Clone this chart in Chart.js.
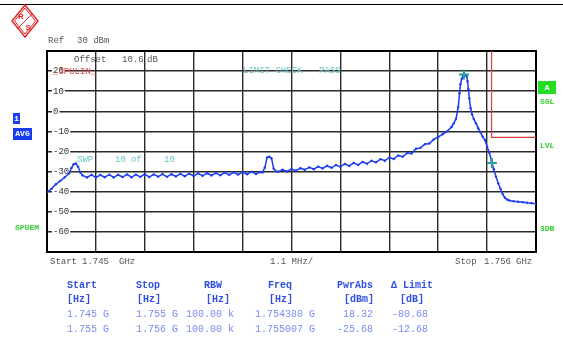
<!DOCTYPE html>
<html><head><meta charset="utf-8">
<script src="https://cdn.jsdelivr.net/npm/chart.js@4/dist/chart.umd.min.js"></script>
<style>
html,body{margin:0;padding:0;background:#fff;}
#wrap{position:relative;width:563px;height:342px;overflow:hidden;font-family:'Liberation Mono',monospace;}
#c{position:absolute;left:0;top:0;}
.t{position:absolute;white-space:pre;line-height:1;font-size:9px;color:#555;}
.teal{color:#6cc6c6;}
.grn{color:#33cc33;font-weight:bold;font-size:8px;}
.box{position:absolute;color:#fff;font-weight:bold;font-size:8px;line-height:1;text-align:center;}
.hd{position:absolute;white-space:pre;font-size:10px;line-height:1;font-weight:bold;color:#2f4fe0;}
.vl{position:absolute;white-space:pre;font-size:10px;line-height:1;color:#7a8cf0;}
#topline{position:absolute;left:0;top:4px;width:563px;height:1px;background:#000;}
</style></head><body>
<div id="wrap">
<canvas id="c" width="563" height="342"></canvas>
<div id="topline"></div>
<svg style="position:absolute;left:0;top:0" width="50" height="44">
  <polygon points="25,5 38,21 25,37 12,21" fill="none" stroke="#dd2b2b" stroke-width="1.5"/>
  <polygon points="25,8 35.5,21 25,34 14.5,21" fill="none" stroke="#dd2b2b" stroke-width="1"/>
  <line x1="18" y1="28" x2="32" y2="14" stroke="#dd2b2b" stroke-width="1"/>
  <text x="18" y="19" font-family="Liberation Sans" font-weight="bold" font-size="8" fill="#dd2b2b">R</text>
  <text x="25.5" y="30" font-family="Liberation Sans" font-weight="bold" font-size="8" fill="#dd2b2b">S</text>
</svg>
<div class="t" style="left:48px;top:37px">Ref</div>
<div class="t" style="left:77px;top:37px">30 dBm</div>
<div class="t" style="left:74px;top:56px">Offset</div>
<div class="t" style="left:122px;top:56px">10.6</div>
<div class="t" style="left:147px;top:56px">dB</div>
<div class="t" style="left:53px;top:68px;color:#e04848">_SPULIN_</div>
<div class="t teal" style="left:243px;top:67px">LIMIT CHECK</div>
<div class="t teal" style="left:319px;top:67px">PASS</div>
<div class="t teal" style="left:77px;top:156px">SWP</div>
<div class="t teal" style="left:115px;top:156px">10</div>
<div class="t teal" style="left:131px;top:156px">of</div>
<div class="t teal" style="left:164px;top:156px">10</div>
<div class="t" style="left:50px;top:258px">Start</div>
<div class="t" style="left:82px;top:258px">1.745</div>
<div class="t" style="left:119px;top:258px">GHz</div>
<div class="t" style="left:270px;top:258px">1.1 MHz/</div>
<div class="t" style="left:455px;top:258px">Stop</div>
<div class="t" style="left:484px;top:258px">1.756</div>
<div class="t" style="left:516px;top:258px">GHz</div>
<div class="box" style="left:13px;top:113px;width:7px;height:11px;padding-top:2px;box-sizing:border-box;background:#1a3cf0">1</div>
<div class="box" style="left:13px;top:128px;width:19px;height:12px;padding-top:2px;box-sizing:border-box;background:#1a3cf0">AVG</div>
<div class="t grn" style="left:15px;top:224px">SPUEM</div>
<div class="box" style="left:538px;top:81px;width:18px;height:13px;padding-top:3px;box-sizing:border-box;background:#22dd22">A</div>
<div class="t grn" style="left:540px;top:98px">SGL</div>
<div class="t grn" style="left:540px;top:142px">LVL</div>
<div class="t grn" style="left:540px;top:225px">3DB</div>
<div id="tbl"></div>
</div>
<script>
// Trace: frequency (MHz) and level (dBm)
const freqMHz = [
 1745.0,1745.1,1745.2,1745.3,1745.4,1745.5,1745.55,1745.6,1745.65,1745.7,1745.75,1745.8,1745.9,
 1746.0,1746.1,1746.2,1746.3,1746.4,1746.5,1746.6,1746.7,1746.8,1746.9,
 1747.0,1747.1,1747.2,1747.3,1747.4,1747.5,1747.6,1747.7,1747.8,1747.9,
 1748.0,1748.1,1748.2,1748.3,1748.4,1748.5,1748.6,1748.7,1748.8,1748.9,
 1749.0,1749.1,1749.2,1749.3,1749.4,1749.5,1749.6,1749.7,1749.8,1749.85,1749.9,1749.95,
 1750.0,1750.05,1750.1,1750.15,1750.2,1750.3,1750.4,1750.5,1750.6,1750.7,1750.8,1750.9,
 1751.0,1751.1,1751.2,1751.3,1751.4,1751.5,1751.6,1751.7,1751.8,1751.9,
 1752.0,1752.1,1752.2,1752.3,1752.4,1752.5,1752.6,1752.7,1752.8,1752.9,
 1753.0,1753.1,1753.2,1753.3,1753.4,1753.5,1753.6,1753.7,1753.8,1753.9,
 1754.0,1754.1,1754.15,1754.2,1754.25,1754.28,1754.3,1754.33,1754.36,1754.38,1754.41,1754.44,1754.46,1754.48,
 1754.5,1754.53,1754.56,1754.6,1754.65,1754.7,1754.75,1754.8,1754.85,1754.9,1754.95,
 1755.0,1755.01,1755.05,1755.1,1755.15,1755.2,1755.25,1755.3,1755.35,1755.4,1755.5,1755.6,1755.7,1755.8,1755.9,1756.0
];
const levelDbm = [
 -40.2,-38.6,-36.3,-34.6,-32.8,-30.9,-28.2,-26.3,-26.0,-27.6,-30.4,-31.9,-32.9,
 -31.6,-32.9,-31.7,-32.8,-31.5,-32.9,-31.6,-32.7,-31.4,-32.8,
 -31.5,-32.6,-31.3,-32.7,-31.4,-32.5,-31.2,-32.6,-31.3,-32.4,
 -31.1,-32.3,-31.0,-32.2,-30.9,-32.1,-30.8,-31.9,-30.7,-31.8,
 -30.5,-31.6,-30.4,-31.5,-30.3,-31.3,-30.1,-31.2,-30.2,-30.4,-28.0,-23.0,
 -22.6,-23.4,-28.5,-29.8,-30.1,-29.1,-29.9,-28.7,-29.5,-28.3,-29.1,-27.9,
 -28.8,-27.5,-28.4,-27.1,-28.1,-26.7,-27.6,-26.2,-27.2,-25.7,
 -26.7,-25.2,-26.1,-24.6,-25.4,-23.8,-24.6,-23.0,-23.7,-22.0,
 -22.6,-20.8,-21.0,-18.6,-18.2,-16.4,-16.0,-14.0,-12.8,-11.4,
 -10.0,-7.8,-6.0,-3.8,2.0,9.0,13.5,16.2,17.8,18.3,18.1,17.4,15.0,11.0,
 6.5,1.5,-1.5,-3.8,-6.0,-8.4,-10.5,-12.6,-14.3,-17.5,-20.6,
 -24.5,-25.7,-28.8,-32.5,-35.8,-38.5,-41.2,-43.0,-43.9,-44.4,-44.8,-45.0,-45.2,-45.5,-45.7,-46.0
];
// Limit line
const limitFreqMHz = [1745, 1755, 1755, 1756];
const limitDbm = [99, 99, -13, -13];
// Markers
const markerFreqMHz = [1754.380, 1755.007];
const markerDbm = [18.32, -25.68];
// Axis grid / tick labels
const xGridMHz = [1745, 1746.1, 1747.2, 1748.3, 1749.4, 1750.5, 1751.6, 1752.7, 1753.8, 1754.9, 1756];
const yTickValues = [30, 20, 10, 0, -10, -20, -30, -40, -50, -60, -70];
const yTickLabels = ['', '20', '10', '0', '-10', '-20', '-30', '-40', '-50', '-60', ''];
// Table
const tblStart = ['1.745 G', '1.755 G'];
const tblStop = ['1.755 G', '1.756 G'];
const tblRbw = ['100.00 k', '100.00 k'];
const tblFreq = ['1.754380 G', '1.755007 G'];
const tblPwr = ['18.32', '-25.68'];
const tblLimit = ['-80.68', '-12.68'];

(function buildTable(){
  const el = document.getElementById('tbl');
  let h = '';
  const hdr = [['Start',67],['Stop',136],['RBW',204],['Freq',268],['PwrAbs',337],['\u0394 Limit',391]];
  hdr.forEach(([t,x])=>{h += `<div class="hd" style="left:${x}px;top:281px">${t}</div>`;});
  const un = [['[Hz]',67],['[Hz]',137],['[Hz]',206],['[Hz]',269],['[dBm]',344],['[dB]',400]];
  un.forEach(([t,x])=>{h += `<div class="hd" style="left:${x}px;top:295px">${t}</div>`;});
  const tops = [310, 325];
  for (let i = 0; i < 2; i++) {
    const cells = [[tblStart[i],67],[tblStop[i],136],[tblRbw[i],186],[tblFreq[i],255]];
    cells.forEach(([t,x])=>{h += `<div class="vl" style="left:${x}px;top:${tops[i]}px">${t}</div>`;});
    h += `<div class="vl" style="left:${373 - tblPwr[i].length*6}px;top:${tops[i]}px">${tblPwr[i]}</div>`;
    h += `<div class="vl" style="left:392px;top:${tops[i]}px">${tblLimit[i]}</div>`;
  }
  el.innerHTML = h;
})();

const framePlugin = {
  id: 'frame',
  beforeDatasetsDraw(chart) {
    const a = chart.chartArea, c = chart.ctx;
    c.save();
    c.strokeStyle = '#000';
    c.lineWidth = 2;
    c.strokeRect(a.left, a.top, a.right - a.left, a.bottom - a.top);
    c.restore();
  }
};

new Chart(document.getElementById('c'), {
  type: 'line',
  data: {
    datasets: [
      {
        data: markerFreqMHz.map((f, i) => ({x: f, y: markerDbm[i]})),
        type: 'scatter', showLine: false, pointStyle: 'cross', pointRadius: 5,
        borderColor: '#2a9d9d', borderWidth: 2, order: 1
      },
      {
        data: freqMHz.map((f, i) => ({x: f, y: levelDbm[i]})),
        borderColor: '#1e3cf0', borderWidth: 1.5, pointRadius: 1.2,
        pointBackgroundColor: '#1e3cf0', pointBorderWidth: 0, tension: 0, order: 2
      },
      {
        data: limitFreqMHz.map((f, i) => ({x: f, y: limitDbm[i]})),
        borderColor: '#e03a3a', borderWidth: 1.2, pointRadius: 0, tension: 0, order: 3
      }
    ]
  },
  options: {
    responsive: false, animation: false, events: [],
    layout: {padding: {left: 47, top: 51, right: 27, bottom: 90}},
    plugins: {legend: {display: false}, tooltip: {enabled: false}},
    scales: {
      x: {
        type: 'linear', min: 1745, max: 1756,
        afterBuildTicks: s => { s.ticks = xGridMHz.map(v => ({value: v})); },
        afterFit: s => { s.height = 0; },
        ticks: {display: false},
        grid: {color: '#2b2b2b', lineWidth: 1.4, drawTicks: false},
        border: {display: false}
      },
      y: {
        type: 'linear', min: -70, max: 30,
        afterBuildTicks: s => { s.ticks = yTickValues.map(v => ({value: v})); },
        afterFit: s => { s.width = 0; },
        ticks: {
          mirror: true, padding: 6, crossAlign: 'near',
          callback: v => yTickLabels[yTickValues.indexOf(v)],
          color: '#333', font: {size: 9, family: 'Liberation Mono'},
          showLabelBackdrop: true, backdropColor: '#fff',
          backdropPadding: {top: 0, bottom: 0, left: 1, right: 1}
        },
        grid: {color: '#2b2b2b', lineWidth: 1.4, drawTicks: false},
        border: {display: false}
      }
    }
  },
  plugins: [framePlugin]
});
</script>
</body></html>
